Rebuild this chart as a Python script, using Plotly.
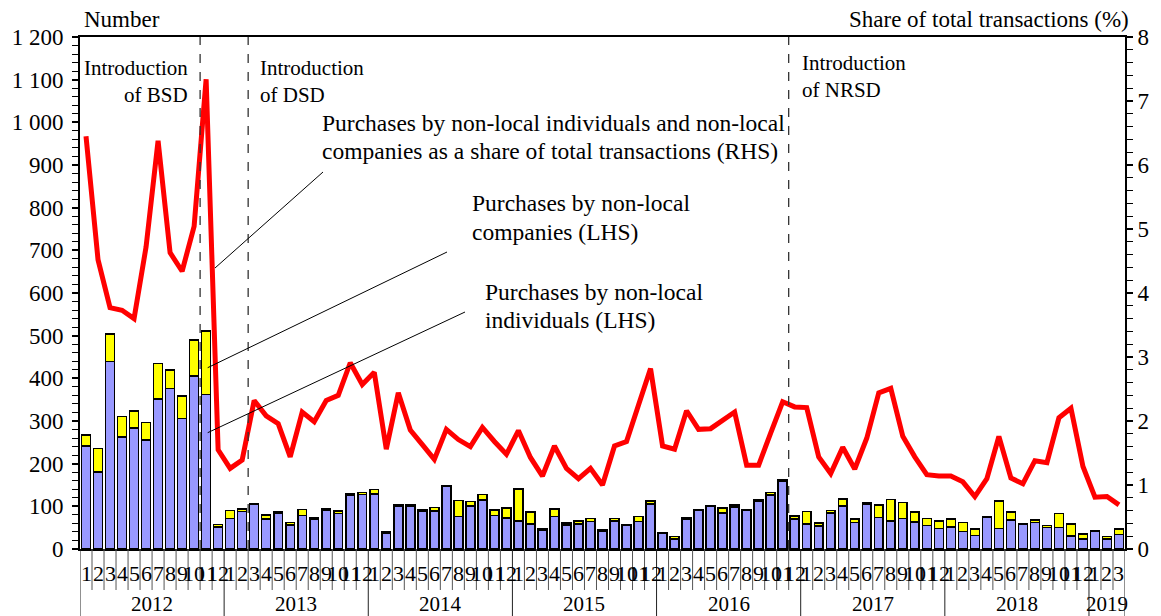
import plotly.graph_objects as go

# ---------------- data ----------------
years = ["2012", "2013", "2014", "2015", "2016", "2017", "2018", "2019"]
month_labels = ["1", "2", "3", "4", "5", "6", "7", "8", "9", "10", "11", "12"] * 7 + ["1", "2", "3"]

individuals = [
    242, 181, 439, 262, 284, 255, 352, 376, 306, 405, 362, 52,   # 2012
    72, 88, 104, 70, 84, 56, 79, 70, 91, 83, 125, 128,           # 2013
    129, 37, 101, 100, 89, 89, 146, 76, 101, 115, 78, 73,        # 2014
    66, 59, 45, 76, 56, 59, 65, 42, 66, 56, 64, 106,             # 2015
    36, 24, 70, 91, 101, 84, 99, 91, 113, 126, 159, 70,          # 2016
    59, 54, 84, 101, 62, 105, 74, 66, 71, 63, 55, 48,            # 2017
    52, 41, 32, 75, 48, 68, 58, 62, 50, 50, 31, 23,              # 2018
    41, 23, 34,                                                  # 2019
]
companies = [
    25, 54, 65, 48, 39, 42, 83, 44, 53, 85, 149, 5,              # 2012
    18, 6, 3, 10, 3, 6, 14, 4, 4, 6, 4, 5,                       # 2013
    11, 3, 3, 3, 4, 8, 3, 38, 10, 13, 13, 23,                    # 2014
    75, 28, 3, 18, 5, 7, 6, 3, 5, 2, 12, 7,                      # 2015
    1, 5, 3, 2, 1, 12, 4, 2, 3, 6, 3, 7,                         # 2016
    29, 7, 6, 16, 8, 3, 29, 50, 38, 24, 16, 18,                  # 2017
    18, 21, 15, 1, 65, 19, 1, 6, 5, 33, 28, 12,                  # 2018
    2, 6, 13,                                                    # 2019
]
share_pct = [
    6.45, 4.52, 3.77, 3.73, 3.60, 4.72, 6.38, 4.63, 4.34, 5.04, 7.34, 1.55,  # 2012
    1.26, 1.39, 2.32, 2.08, 1.96, 1.44, 2.14, 1.99, 2.32, 2.40, 2.91, 2.57,  # 2013
    2.76, 1.56, 2.44, 1.86, 1.63, 1.40, 1.87, 1.71, 1.60, 1.90, 1.68, 1.48,  # 2014
    1.85, 1.43, 1.14, 1.61, 1.26, 1.10, 1.26, 1.00, 1.61, 1.68, 2.25, 2.82,  # 2015
    1.61, 1.56, 2.16, 1.87, 1.88, 2.02, 2.14, 1.31, 1.31, 1.81, 2.30, 2.22,  # 2016
    2.21, 1.44, 1.18, 1.59, 1.25, 1.73, 2.44, 2.51, 1.76, 1.44, 1.16, 1.14,  # 2017
    1.14, 1.05, 0.82, 1.10, 1.76, 1.11, 1.02, 1.38, 1.35, 2.05, 2.20, 1.29,  # 2018
    0.81, 0.82, 0.69,                                                        # 2019
]
left_ticks = [0, 100, 200, 300, 400, 500, 600, 700, 800, 900, 1000, 1100, 1200]
left_tick_text = ["0", "100", "200", "300", "400", "500", "600", "700", "800", "900",
                  "1 000", "1 100", "1 200"]
right_ticks = [0, 1, 2, 3, 4, 5, 6, 7, 8]
# month index (0 = Jan 2012) boundaries where schemes were introduced
intro_boundaries = [9.5, 13.5, 58.5]

FONT = "Liberation Serif"
x = list(range(len(individuals)))
n = len(x)

# plot area in page pixels (page body adds an 8px offset)
PX0, PX1, PY0, PY1 = 80, 1125, 37, 549


def px(xp):
    return (xp - PX0) / (PX1 - PX0)


def py(yp):
    return (PY1 - yp) / (PY1 - PY0)


fig = go.Figure()
fig.add_trace(go.Bar(x=x, y=individuals, marker=dict(color="#9999FF", line=dict(color="black", width=1.5)),
                     width=0.74, name="individuals"))
fig.add_trace(go.Bar(x=x, y=companies, marker=dict(color="#FFFF00", line=dict(color="black", width=1.5)),
                     width=0.74, name="companies"))
fig.add_trace(go.Scatter(x=x, y=share_pct, yaxis="y2", mode="lines",
                         line=dict(color="#FF0000", width=5), name="share"))

shapes = []
annotations = []

# dashed introduction lines
for b in intro_boundaries:
    shapes.append(dict(type="line", xref="x", yref="paper", x0=b, x1=b, y0=0, y1=1,
                       line=dict(color="#333333", width=1.3, dash="dash")))

# month separators and labels
for i in range(n + 1):
    is_year = (i % 12 == 0) or i == n
    shapes.append(dict(type="line", xref="x", yref="paper", x0=i - 0.5, x1=i - 0.5,
                       y0=0, y1=py(616) if is_year else py(590),
                       line=dict(color="#222222" if is_year else "#555555", width=1)))
for i, lab in enumerate(month_labels):
    annotations.append(dict(x=i, y=py(573), xref="x", yref="paper", text=lab, showarrow=False,
                            xanchor="center", yanchor="middle",
                            font=dict(family=FONT, size=22, color="black")))
for k, yr in enumerate(years):
    start = k * 12 - 0.5
    end = min(k * 12 + 11.5, n - 0.5)
    annotations.append(dict(x=(start + end) / 2, y=py(604), xref="x", yref="paper", text=yr,
                            showarrow=False, xanchor="center", yanchor="middle",
                            font=dict(family=FONT, size=21, color="black")))


def txt(xpix, ypix, text, xanchor="left", size=23):
    annotations.append(dict(x=px(xpix), y=py(ypix), xref="paper", yref="paper", text=text,
                            showarrow=False, xanchor=xanchor, yanchor="middle",
                            font=dict(family=FONT, size=size, color="black")))


# axis titles
txt(82, 19, "Number")
txt(1131, 19, "Share of total transactions (%)", xanchor="right")

# introduction labels
txt(190, 68, "Introduction", xanchor="right", size=21)
txt(190, 95, "of BSD", xanchor="right", size=21)
txt(258, 68, "Introduction", size=21)
txt(258, 95, "of DSD", size=21)
txt(800, 63, "Introduction", size=21)
txt(800, 90, "of NRSD", size=21)

# series call-outs
txt(320, 123, "Purchases by non-local individuals and non-local", size=23.5)
txt(320, 151, "companies as a share of total transactions (RHS)", size=23.5)
txt(470, 203, "Purchases by non-local", size=23.5)
txt(470, 232, "companies (LHS)", size=23.5)
txt(483, 292, "Purchases by non-local", size=23.5)
txt(483, 320, "individuals (LHS)", size=23.5)

# leader lines
for (xa, ya, xb, yb) in [(323, 172, 215, 268),
                         (447, 252, 207.7, 367.7),
                         (465, 312, 207.7, 432.7)]:
    shapes.append(dict(type="line", xref="paper", yref="paper", x0=px(xa), y0=py(ya), x1=px(xb), y1=py(yb),
                       line=dict(color="black", width=1)))

fig.update_layout(
    width=1153, height=608,
    margin=dict(l=72, r=36, t=29, b=67, pad=0, autoexpand=False),
    plot_bgcolor="white", paper_bgcolor="white",
    barmode="stack", showlegend=False,
    font=dict(family=FONT, size=23, color="black"),
    shapes=shapes, annotations=annotations,
    xaxis=dict(range=[-0.5, n - 0.5], showticklabels=False, ticks="", showgrid=False, zeroline=False,
               showline=True, linecolor="black", linewidth=2, mirror=True, automargin=False),
    yaxis=dict(range=[0, 1200], tickvals=left_ticks, ticktext=left_tick_text, ticks="outside",
               ticklen=6, tickwidth=1.5, tickcolor="black", showgrid=False, zeroline=False,
               showline=True, linecolor="black", linewidth=2, ticklabelstandoff=4, automargin=False,
               minor=dict(dtick=20, ticks="outside", ticklen=6, tickwidth=1, tickcolor="black"),
               tickfont=dict(family=FONT, size=23)),
    yaxis2=dict(range=[0, 8], tickvals=right_ticks, overlaying="y", side="right", ticks="outside",
                ticklen=6, tickwidth=1.5, tickcolor="black", showgrid=False, zeroline=False,
                showline=True, linecolor="black", linewidth=2, automargin=False,
                minor=dict(dtick=0.2, ticks="outside", ticklen=6, tickwidth=1, tickcolor="black"),
                tickfont=dict(family=FONT, size=23)),
)

fig.write_html("out.html")
